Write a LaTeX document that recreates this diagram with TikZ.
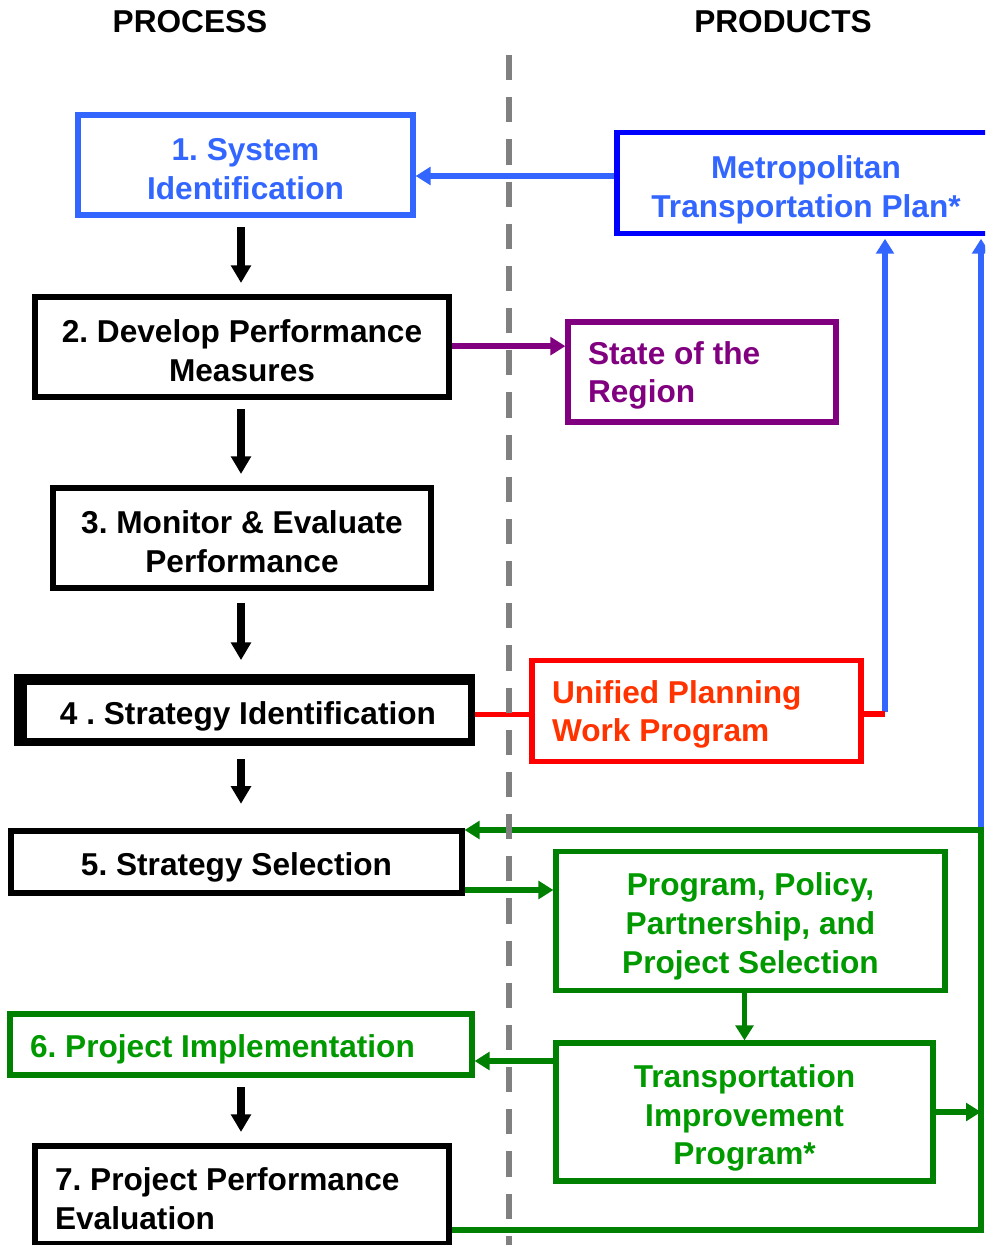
\documentclass[tikz,border=0pt]{standalone}
\usepackage{fontspec}
\setmainfont{Liberation Sans}
\usepackage{tikz}
\usetikzlibrary{arrows.meta}
\usetikzlibrary{calc}

\definecolor{sysblue}{RGB}{51,102,255}
\definecolor{planblue}{RGB}{0,0,255}
\definecolor{regpurple}{RGB}{128,0,128}
\definecolor{upwpred}{RGB}{255,0,0}
\definecolor{upwptext}{RGB}{255,51,0}
\definecolor{selgreen}{RGB}{0,128,0}
\definecolor{seltext}{RGB}{0,153,0}
\definecolor{divgray}{RGB}{128,128,128}

\frenchspacing

\begin{document}
\begin{tikzpicture}[x=0.02cm, y=-0.02cm, line join=miter,
        box_style/.style={rectangle,draw=black,line width=3pt,inner sep=0pt,align=flush center,font=\fontsize{18}{22}\selectfont\bfseries,
                execute at begin node={\rule{0pt}{17pt}}},
        left_box_style/.style={box_style,align=flush left},
        one_line_style/.style={execute at begin node={\rule{0pt}{19pt}}},
        header_style/.style={inner sep=0pt,font=\fontsize{18}{20}\selectfont\bfseries},
        step_arrow_style/.style={draw=black,line width=4.5pt,-{Triangle[width=11pt,length=10pt]},shorten <=5.5pt,shorten >=6.5pt},
        edge_style/.style={line width=3pt,-{Triangle[width=10pt,length=8.5pt]}},
        line_style/.style={line width=3pt,-},
        divider_style/.style={draw=divgray,line width=3.6pt,dash pattern=on 14.4pt off 9.6pt}]

        \useasboundingbox (0,0) rectangle (985,1245);
        \clip (0,0) rectangle (985,1245);

        \node [header_style](h1) at (190,22) {PROCESS};
        \node [header_style](h2) at (783,22) {PRODUCTS};

        \node [box_style,draw=sysblue,text=sysblue,minimum width=6.7cm,minimum height=2cm,text width=6.3cm](n1) at (245.5,165) {1. System\\Identification};
        \node [box_style,minimum width=8.28cm,minimum height=2cm,text width=8cm](n2) at (242,347) {2. Develop Performance\\Measures};
        \node [box_style,minimum width=7.56cm,minimum height=2cm,text width=7.3cm](n3) at (242,538) {3. Monitor \& Evaluate\\Performance};
        \node [box_style,one_line_style,minimum width=8.96cm,minimum height=1.18cm,text width=8.7cm](n4) at (248,711.5) {4 . Strategy Identification};
        \draw [line width=4pt] ($(n4.north west)+(-4,-2)$) rectangle ($(n4.south east)+(-3,-1)$);
        \node [box_style,one_line_style,minimum width=9.02cm,minimum height=1.24cm,text width=8.8cm](n5) at (236.5,862) {5. Strategy Selection};
        \node [left_box_style,one_line_style,draw=selgreen,text=seltext,minimum width=9.24cm,minimum height=1.22cm,text width=8.44cm](n6) at (241,1044.5) {6. Project Implementation};
        \node [left_box_style,minimum width=8.28cm,minimum height=1.96cm,text width=7.48cm](n7) at (242,1195) {7. Project Performance\\Evaluation};

        \node [box_style,draw=planblue,text=sysblue,minimum width=7.56cm,minimum height=2.02cm,text width=7.3cm,
                execute at begin node={\rule{0pt}{21pt}}](m1) at (806,183) {Metropolitan\\Transportation Plan*};
        \node [left_box_style,draw=regpurple,text=regpurple,minimum width=5.36cm,minimum height=2cm,text width=4.56cm](m2) at (702,372) {State of the\\Region};
        \node [left_box_style,draw=upwpred,text=upwptext,minimum width=6.58cm,minimum height=2.02cm,text width=5.78cm](m3) at (696.5,711) {Unified Planning\\Work Program};
        \node [box_style,draw=selgreen,text=seltext,minimum width=7.78cm,minimum height=2.78cm,text width=7.5cm,
                execute at begin node={\rule{0pt}{19pt}}](m4) at (750.5,921) {Program, Policy,\\Partnership, and\\Project Selection};
        \node [box_style,draw=selgreen,text=seltext,minimum width=7.54cm,minimum height=2.76cm,text width=7.3cm,
                execute at begin node={\rule{0pt}{20pt}}](m5) at (744.5,1112) {Transportation\\Improvement\\Program*};

        \coordinate (axis) at (241,0);
        \coordinate (r1) at (885,714);
        \coordinate (g1) at (981,830);
        \coordinate (g2) at (981,1230);
        \coordinate (g3) at ($(n5.east)+(0,28)$);
        \coordinate (g4) at ($(m5.west)+(0,-51)$);
        \coordinate (d1) at (509,55);
        \coordinate (d2) at (509,1250);

        \draw [step_arrow_style] (n1.south -| axis) -- (n2.north -| axis);
        \draw [step_arrow_style] (n2.south -| axis) -- (n3.north -| axis);
        \draw [step_arrow_style,shorten <=7pt,shorten >=11pt] (n3.south -| axis) -- (n4.north -| axis);
        \draw [step_arrow_style,shorten <=9pt,shorten >=14pt] (n4.south -| axis) -- (n5.north -| axis);
        \draw [step_arrow_style] (n6.south -| axis) -- (n7.north -| axis);

        \draw [edge_style,draw=sysblue] ([yshift=0.14cm]m1.west) -- ([yshift=0.14cm]m1.west -| n1.east);
        \draw [edge_style,draw=regpurple] ([yshift=0.5pt]n2.east) -- ([yshift=0.5pt]n2.east -| m2.west);
        \draw [line_style,draw=upwpred] ([yshift=-0.06cm]n4.east) -- ([yshift=-0.06cm]n4.east -| m3.west);
        \draw [edge_style,draw=sysblue,shorten >=1.5pt] ([yshift=0.05cm]r1) -- (r1 |- m1.south);
        \draw [line_style,draw=upwpred] (m3.east |- r1) -- (r1);
        \draw [edge_style,draw=sysblue,shorten >=1.5pt] (g1) -- (g1 |- m1.south);
        \draw [edge_style,draw=selgreen] ($(n7.east)+(0,35)$) -- (g2) -- (g1) -- (g1 -| n5.east);
        \draw [edge_style,draw=selgreen] (g3) -- (g3 -| m4.west);
        \draw [edge_style,draw=selgreen] (m4.south -| m5.north) -- (m5.north);
        \draw [edge_style,draw=selgreen] (g4) -- (g4 -| n6.east);
        \draw [edge_style,draw=selgreen] (m5.east) -- (m5.east -| g1);

        \draw [divider_style] (d1) -- (d2);
        \end{tikzpicture}
\end{document}
